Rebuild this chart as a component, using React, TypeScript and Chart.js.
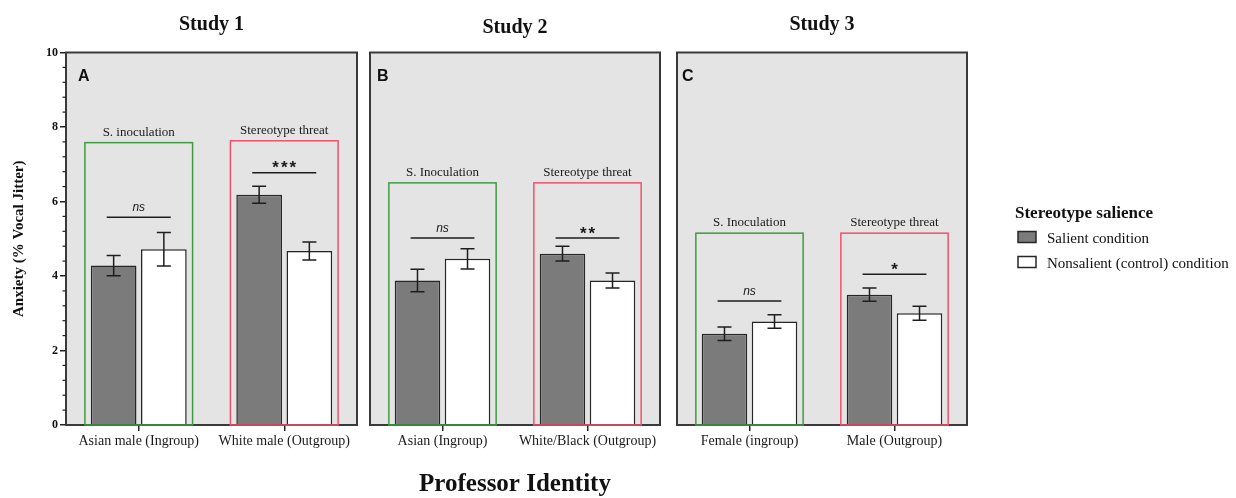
import React, { useEffect, useRef } from 'react';
import { Chart, registerables } from 'chart.js';

Chart.register(...registerables);

const SERIF = "'Liberation Serif', 'Times New Roman', serif";
const SANS = "'Liberation Sans', Arial, sans-serif";

// ---------- data ----------
const panelTitles = ['Study 1', 'Study 2', 'Study 3'];
const panelLetters = ['A', 'B', 'C'];
const seriesNames = ['Salient condition', 'Nonsalient (control) condition'];
const legendTitle = 'Stereotype salience';
const yAxisTitle = 'Anxiety (% Vocal Jitter)';
const xAxisTitle = 'Professor Identity';
const yTickValues = [0, 2, 4, 6, 8, 10];

const study1Categories = ['Asian male (Ingroup)', 'White male (Outgroup)'];
const study1Salient = [4.28, 6.18];
const study1SalientErr = [0.27, 0.23];
const study1Nonsalient = [4.72, 4.67];
const study1NonsalientErr = [0.45, 0.24];
const study1BoxLabels = ['S. inoculation', 'Stereotype threat'];
const study1BoxTops = [7.58, 7.63];
const study1SigLabels = ['ns', '***'];
const study1SigLevels = [5.58, 6.77];

const study2Categories = ['Asian (Ingroup)', 'White/Black (Outgroup)'];
const study2Salient = [3.88, 4.6];
const study2SalientErr = [0.3, 0.2];
const study2Nonsalient = [4.46, 3.88];
const study2NonsalientErr = [0.27, 0.2];
const study2BoxLabels = ['S. Inoculation', 'Stereotype threat'];
const study2BoxTops = [6.5, 6.5];
const study2SigLabels = ['ns', '**'];
const study2SigLevels = [5.02, 5.02];

const study3Categories = ['Female (ingroup)', 'Male (Outgroup)'];
const study3Salient = [2.45, 3.5];
const study3SalientErr = [0.18, 0.18];
const study3Nonsalient = [2.78, 3.0];
const study3NonsalientErr = [0.18, 0.19];
const study3BoxLabels = ['S. Inoculation', 'Stereotype threat'];
const study3BoxTops = [5.15, 5.15];
const study3SigLabels = ['ns', '*'];
const study3SigLevels = [3.33, 4.05];

// ---------- styles ----------
const SALIENT_FILL = '#7b7b7b';
const BAR_BORDER = '#262626';
const PANEL_BG = '#e4e4e4';
const PANEL_BORDER = '#3a3a3a';
const BOX_COLORS = ['#3f9b3f', '#f2506c'];

const panels = [
  {
    title: panelTitles[0], letter: panelLetters[0], categories: study1Categories,
    salient: study1Salient, salientErr: study1SalientErr,
    nonsalient: study1Nonsalient, nonsalientErr: study1NonsalientErr,
    boxLabels: study1BoxLabels, boxTops: study1BoxTops,
    sigLabels: study1SigLabels, sigLevels: study1SigLevels,
  },
  {
    title: panelTitles[1], letter: panelLetters[1], categories: study2Categories,
    salient: study2Salient, salientErr: study2SalientErr,
    nonsalient: study2Nonsalient, nonsalientErr: study2NonsalientErr,
    boxLabels: study2BoxLabels, boxTops: study2BoxTops,
    sigLabels: study2SigLabels, sigLevels: study2SigLevels,
  },
  {
    title: panelTitles[2], letter: panelLetters[2], categories: study3Categories,
    salient: study3Salient, salientErr: study3SalientErr,
    nonsalient: study3Nonsalient, nonsalientErr: study3NonsalientErr,
    boxLabels: study3BoxLabels, boxTops: study3BoxTops,
    sigLabels: study3SigLabels, sigLevels: study3SigLevels,
  },
];

const layouts = [
  { left: 0, width: 362, padLeft: 0, padRight: 5, showY: true, titleBaseline: 29.5, letterDx: 12, legend: false, xTitle: false },
  { left: 362, width: 303, padLeft: 8, padRight: 5, showY: false, titleBaseline: 33, letterDx: 7, legend: false, xTitle: true },
  { left: 670, width: 566, padLeft: 7, padRight: 269, showY: false, titleBaseline: 29.5, letterDx: 5, legend: true, xTitle: false },
];

const HEIGHT = 498;

function PanelChart({ panel, layout }: { panel: any; layout: any }) {
  const ref = useRef<HTMLCanvasElement | null>(null);

  useEffect(() => {
    if (!ref.current) return;
    const p = panel;
    const L = layout;

    const decor = {
      id: 'decor',
      beforeDraw(chart: any) {
        const { ctx, chartArea: a } = chart;
        ctx.save();
        ctx.fillStyle = PANEL_BG;
        ctx.fillRect(a.left, a.top, a.right - a.left, a.bottom - a.top);
        ctx.restore();
      },
      afterDatasetsDraw(chart: any) {
        const { ctx, chartArea: a, scales } = chart;
        const xs = scales.x;
        const ys = scales.y;
        ctx.save();
        // error bars
        const series = [
          [0, p.salient, p.salientErr],
          [1, p.nonsalient, p.nonsalientErr],
        ];
        ctx.strokeStyle = '#1e1e1e';
        ctx.lineWidth = 1.5;
        series.forEach(([di, vals, errs]: any) => {
          const meta = chart.getDatasetMeta(di);
          meta.data.forEach((el: any, i: number) => {
            const cx = el.x;
            const t = ys.getPixelForValue(vals[i] + errs[i]);
            const b = ys.getPixelForValue(vals[i] - errs[i]);
            ctx.beginPath();
            ctx.moveTo(cx, t); ctx.lineTo(cx, b);
            ctx.moveTo(cx - 7, t); ctx.lineTo(cx + 7, t);
            ctx.moveTo(cx - 7, b); ctx.lineTo(cx + 7, b);
            ctx.stroke();
          });
        });
        // panel border
        ctx.strokeStyle = PANEL_BORDER;
        ctx.lineWidth = 2;
        ctx.strokeRect(a.left, a.top, a.right - a.left, a.bottom - a.top);
        // minor ticks
        if (L.showY) {
          ctx.strokeStyle = '#222';
          ctx.lineWidth = 1.2;
          for (let k = 1; k < 25; k++) {
            if (k % 5 === 0) continue;
            const yy = ys.getPixelForValue(k * 0.4);
            ctx.beginPath();
            ctx.moveTo(a.left - 3.5, yy);
            ctx.lineTo(a.left, yy);
            ctx.stroke();
          }
        }
        // group boxes, labels and significance
        const catW = (a.right - a.left) / p.categories.length;
        p.categories.forEach((_c: string, i: number) => {
          const cx = xs.getPixelForValue(i);
          const top = ys.getPixelForValue(p.boxTops[i]);
          const bottom = ys.getPixelForValue(0);
          ctx.strokeStyle = BOX_COLORS[i];
          ctx.lineWidth = 1.5;
          ctx.strokeRect(cx - 0.37 * catW, top, 0.74 * catW, bottom - top);

          ctx.fillStyle = '#1a1a1a';
          ctx.textAlign = 'center';
          ctx.textBaseline = 'alphabetic';
          ctx.font = `13px ${SERIF}`;
          ctx.fillText(p.boxLabels[i], cx, top - 7);

          const sy = ys.getPixelForValue(p.sigLevels[i]);
          ctx.strokeStyle = '#1e1e1e';
          ctx.lineWidth = 1.5;
          ctx.beginPath();
          ctx.moveTo(cx - 0.22 * catW, sy);
          ctx.lineTo(cx + 0.22 * catW, sy);
          ctx.stroke();
          const lab = p.sigLabels[i];
          if (lab === 'ns') {
            ctx.font = `italic 12px ${SANS}`;
            ctx.fillText(lab, cx, sy - 6);
          } else {
            ctx.font = `bold 17px ${SANS}`;
            (ctx as any).letterSpacing = '2px';
            ctx.fillText(lab, cx + 1, sy + 0.5);
            (ctx as any).letterSpacing = '0px';
          }
        });
        ctx.restore();
      },
      afterDraw(chart: any) {
        const { ctx, chartArea: a } = chart;
        ctx.save();
        ctx.fillStyle = '#111';
        ctx.textBaseline = 'alphabetic';
        ctx.textAlign = 'center';
        ctx.font = `bold 20px ${SERIF}`;
        ctx.fillText(p.title, (a.left + a.right) / 2, L.titleBaseline);
        ctx.textAlign = 'left';
        ctx.font = `bold 16px ${SANS}`;
        ctx.fillText(p.letter, a.left + L.letterDx, a.top + 28);
        if (L.xTitle) {
          ctx.textAlign = 'center';
          ctx.font = `bold 25px ${SERIF}`;
          ctx.fillText(xAxisTitle, (a.left + a.right) / 2, 491);
        }
        if (L.legend) {
          const lx = a.right + 48;
          ctx.textAlign = 'left';
          ctx.font = `bold 17px ${SERIF}`;
          ctx.fillText(legendTitle, lx, 218);
          const fills = [SALIENT_FILL, '#ffffff'];
          const boxYs = [231.5, 256.5];
          ctx.font = `15px ${SERIF}`;
          seriesNames.forEach((name, i) => {
            ctx.fillStyle = fills[i];
            ctx.fillRect(lx + 3, boxYs[i], 18, 11);
            ctx.strokeStyle = BAR_BORDER;
            ctx.lineWidth = 1.5;
            ctx.strokeRect(lx + 3, boxYs[i], 18, 11);
            ctx.fillStyle = '#111';
            ctx.fillText(name, lx + 32, boxYs[i] + 11);
          });
        }
        ctx.restore();
      },
    };

    const chart = new Chart(ref.current, {
      type: 'bar',
      data: {
        labels: p.categories,
        datasets: [
          {
            label: seriesNames[0],
            data: p.salient,
            backgroundColor: SALIENT_FILL,
            borderColor: BAR_BORDER,
            borderWidth: 1.5,
            categoryPercentage: 0.69,
            barPercentage: 0.91,
          },
          {
            label: seriesNames[1],
            data: p.nonsalient,
            backgroundColor: '#ffffff',
            borderColor: BAR_BORDER,
            borderWidth: 1.5,
            categoryPercentage: 0.69,
            barPercentage: 0.91,
          },
        ],
      },
      options: {
        responsive: false,
        animation: false,
        devicePixelRatio: 1,
        layout: { padding: { left: L.padLeft, right: L.padRight, top: 52.5, bottom: 0 } },
        plugins: { legend: { display: false }, tooltip: { enabled: false }, title: { display: false } },
        scales: {
          x: {
            type: 'category',
            afterFit: (s: any) => { s.height = HEIGHT - 425; },
            border: { display: false },
            grid: { display: true, drawOnChartArea: false, drawTicks: true, tickLength: 6, offset: false, color: '#222', lineWidth: 1.5 },
            ticks: { color: '#1a1a1a', font: { family: SERIF, size: 14 }, padding: 2, maxRotation: 0, autoSkip: false },
          },
          y: {
            display: L.showY,
            min: 0,
            max: 10,
            afterFit: (s: any) => { if (L.showY) s.width = 66; },
            afterBuildTicks: (s: any) => { s.ticks = yTickValues.map((v) => ({ value: v })); },
            border: { display: false },
            grid: { display: true, drawOnChartArea: false, drawTicks: true, tickLength: 6, color: '#222', lineWidth: 1.5 },
            ticks: { color: '#111', font: { family: SERIF, size: 12, weight: 'bold' }, padding: 2 },
            title: { display: true, text: yAxisTitle, color: '#111', font: { family: SERIF, size: 15, weight: 'bold' }, padding: { top: 10.5, bottom: 0 } },
          },
        },
      },
      plugins: [decor],
    } as any);

    return () => chart.destroy();
  }, [panel, layout]);

  return (
    <canvas
      ref={ref}
      width={layout.width}
      height={HEIGHT}
      style={{ position: 'absolute', left: layout.left, top: 0, width: layout.width, height: HEIGHT }}
    />
  );
}

export default function App() {
  return (
    <div style={{ position: 'absolute', left: 0, top: 0, width: 1236, height: HEIGHT, background: '#ffffff', overflow: 'hidden' }}>
      {panels.map((p, i) => (
        <PanelChart key={i} panel={p} layout={layouts[i]} />
      ))}
    </div>
  );
}
